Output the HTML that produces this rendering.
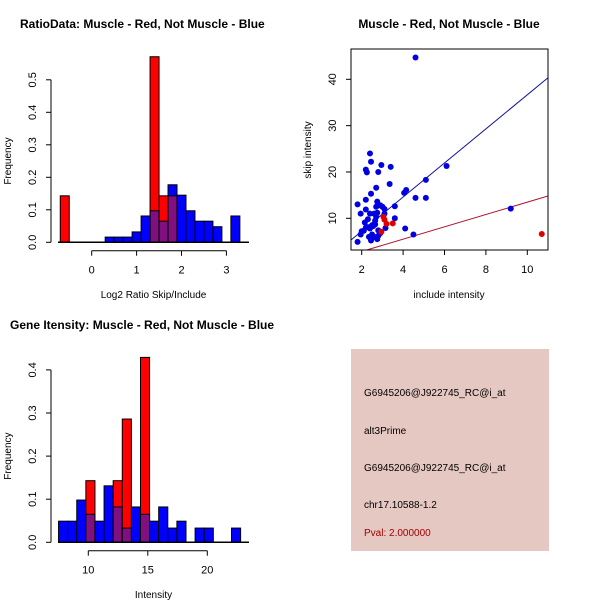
<!DOCTYPE html>
<html><head><meta charset="utf-8"><style>
html,body{margin:0;padding:0;background:#fff;}
svg{display:block;font-family:"Liberation Sans",sans-serif;}
</style></head><body>
<svg id="chart" width="600" height="600" viewBox="0 0 600 600" xmlns="http://www.w3.org/2000/svg">
<g id="p1"></g>
<g id="p2"></g>
<g id="p3"></g>
<g id="info">
<rect x="351" y="349" width="198" height="202" fill="#e6c8c2"/>
<text x="364" y="396" font-size="10" fill="#000">G6945206@J922745_RC@i_at</text>
<text x="364" y="434" font-size="10" fill="#000">alt3Prime</text>
<text x="364" y="471" font-size="10" fill="#000">G6945206@J922745_RC@i_at</text>
<text x="364" y="508" font-size="10" fill="#000">chr17.10588-1.2</text>
<text x="364" y="536" font-size="10" fill="#a00000">Pval: 2.000000</text>
</g>
</svg>
<script>
// ---- Ratio histogram data ----
const ratioBinStart = 0.3;
const ratioBinWidth = 0.2;
const ratioBlue = [0.016,0.016,0.016,0.032,0.081,0.097,0.065,0.177,0.145,0.097,0.065,0.065,0.048,0,0.081];
const ratioRedStarts = [-0.7,1.3,1.5,1.7];
const ratioRed = [0.143,0.571,0.143,0.143];
const ratioXTicks = [0,1,2,3];
const ratioYTicks = [0,0.1,0.2,0.3,0.4,0.5];
// ---- Scatter data ----
const blueX = [4.6,2.4,2.45,2.2,2.25,2.95,3.4,2.8,6.1,5.1,2.7,3.35,4.05,4.15,2.45,4.6,5.1,1.8,2.2,2.75,2.9,3.0,3.1,3.6,2.2,1.95,2.4,2.6,2.7,2.75,3.1,2.15,2.3,2.5,2.65,2.7,3.6,9.2,2.0,2.2,2.3,2.4,2.55,2.65,2.8,3.15,4.1,1.95,2.35,2.45,2.5,2.6,2.75,2.8,2.9,4.5,1.8,2.45,2.1];
const blueY = [44.7,24,22.2,20.5,19.9,21.5,21.1,20,21.3,18.3,16.6,17.4,15.5,16.1,15.3,14.4,14.4,13,14,13.6,12.8,12.5,12,12.6,11.9,11,11,11,12.5,11.2,11,9.1,9.8,8.5,9.5,10.3,10,12.1,7.2,8,8.1,7.8,8.3,8.7,7.4,7.9,7.8,6.5,6,5.5,6.5,6,5.5,6.2,6.8,6.5,4.9,5.2,7.3];
const redX = [3.05,3.1,3.2,3.5,2.95,10.7];
const redY = [10.3,9.7,8.8,8.9,7.1,6.6];
const blueFit = [-0.14,3.68]; // intercept, slope
const redFit = [0.18,1.33];
const scatterXTicks = [2,4,6,8,10];
const scatterYTicks = [10,20,30,40];
// ---- Gene intensity histogram data ----
const geneBinStart = 7.5;
const geneBinWidth = 0.765;
const geneBlue = [0.049,0.049,0.098,0.065,0.049,0.131,0.082,0.033,0.082,0.065,0.049,0.082,0.033,0.049,0,0.033,0.033,0,0,0.033];
const geneRedBins = [3,6,7,9];
const geneRed = [0.143,0.143,0.286,0.429];
const geneXTicks = [10,15,20];
const geneYTicks = [0,0.1,0.2,0.3,0.4];

const NS="http://www.w3.org/2000/svg";
function mk(parent,tag,attrs,text){const e=document.createElementNS(NS,tag);for(const k in attrs)e.setAttribute(k,attrs[k]);if(text!==undefined)e.textContent=text;parent.appendChild(e);return e;}
const BLUE="#0000ff",RED="#ff0000",PURP="#800f80";

function drawHist(g,xs,ys,binsBlue,redStarts,redVals,bw,xTicks,yTicks,x0px,x1px,xTickY,title,titleX,titleY,xlab,xlabY,yTickFmt){
  // blue
  binsBlue.forEach((v,i)=>{
    const a=xs.start+i*bw; const r=redStarts.indexOf(+(a.toFixed(3)));
  });
  const bars=[];
  binsBlue.forEach((v,i)=>{bars.push({a:xs.start+i*bw,b:v,r:0});});
  redStarts.forEach((s,j)=>{
    let found=bars.find(o=>Math.abs(o.a-s)<1e-6);
    if(found)found.r=redVals[j];else bars.push({a:s,b:0,r:redVals[j]});
  });
  bars.forEach(o=>{
    const px=xs(o.a),w=xs(o.a+bw)-px;
    if(o.r>0){const el=mk(g,'rect',{x:px,y:ys(o.r),width:w,height:ys(0)-ys(o.r),fill:RED,stroke:'#000','stroke-width':1});
      
      }
    if(o.b>0){const el=mk(g,'rect',{x:px,y:ys(o.b),width:w,height:ys(0)-ys(o.b),fill:o.r>0&&o.r<o.b?BLUE:(o.r>0?PURP:BLUE),stroke:'#000','stroke-width':1});
      
      }
    if(o.r>0&&o.b>0&&o.r<o.b){const el=mk(g,'rect',{x:px,y:ys(o.r),width:w,height:ys(0)-ys(o.r),fill:PURP,stroke:'#000','stroke-width':1});
      
      }
  });
  mk(g,'line',{x1:x0px,x2:x1px,y1:ys(0),y2:ys(0),stroke:'#000','stroke-width':1.5});
  // x axis
  mk(g,'line',{x1:xs(xTicks[0]),x2:xs(xTicks[xTicks.length-1]),y1:xTickY,y2:xTickY,stroke:'#000'});
  xTicks.forEach(t=>{mk(g,'line',{x1:xs(t),x2:xs(t),y1:xTickY,y2:xTickY+5,stroke:'#000'});
    const el=mk(g,'text',{x:xs(t),y:xTickY+23,'font-size':11,'text-anchor':'middle'},String(t));
    
    });
  // y axis
  mk(g,'line',{x1:51,x2:51,y1:ys(yTicks[0]),y2:ys(yTicks[yTicks.length-1]),stroke:'#000'});
  yTicks.forEach(t=>{mk(g,'line',{x1:46,x2:51,y1:ys(t),y2:ys(t),stroke:'#000'});
    const y=ys(t);const el=mk(g,'text',{x:36,y:y,'font-size':11,'text-anchor':'middle',transform:`rotate(-90 36 ${y})`},t.toFixed(1));
    
    });
  let el=mk(g,'text',{x:titleX,y:titleY,'font-size':12,'font-weight':'bold'},title);
  
  
  el=mk(g,'text',{x:(x0px+x1px)/2,y:xlabY,'font-size':10,'text-anchor':'middle'},xlab);
  
  
  const cy=(ys(0)+ys(yTicks[yTicks.length-1]))/2;
  el=mk(g,'text',{x:11,y:cy,'font-size':10,'text-anchor':'middle',transform:`rotate(-90 11 ${cy})`},'Frequency');
  
  
}

// plot 1
(function(){
  const g=document.getElementById('p1');
  const xs=v=>91.7+v*44.9; xs.start=ratioBinStart;
  const ys=v=>242.3-v*325;
  drawHist(g,xs,ys,ratioBlue,ratioRedStarts,ratioRed,ratioBinWidth,ratioXTicks,ratioYTicks,58,249,250.7,
    'RatioData: Muscle - Red, Not Muscle - Blue',20,28,'Log2 Ratio Skip/Include',298);
})();
// plot 3
(function(){
  const g=document.getElementById('p3');
  const xs=v=>88.3+(v-10)*11.9; xs.start=geneBinStart;
  const ys=v=>542.3-v*431;
  const starts=geneRedBins.map(i=>+(geneBinStart+i*geneBinWidth));
  drawHist(g,xs,ys,geneBlue,starts,geneRed,geneBinWidth,geneXTicks,geneYTicks,58,249,550.7,
    'Gene Itensity: Muscle - Red, Not Muscle - Blue',10,329,'Intensity',598);
})();
// scatter
(function(){
  const g=document.getElementById('p2');
  const xs=v=>361.7+(v-2)*20.7;
  const ys=v=>218.3-(v-10)*4.633;
  const L=351,R=548,T=49,B=250;
  mk(g,'defs',{}).innerHTML='<clipPath id="sc"><rect x="351" y="49" width="197" height="201"/></clipPath>';
  const cg=mk(g,'g',{'clip-path':'url(#sc)'});
  const xa=(L-361.7)/20.7+2, xb=(R-361.7)/20.7+2;
  let el=mk(cg,'line',{x1:xs(xa),y1:ys(blueFit[0]+blueFit[1]*xa),x2:xs(xb),y2:ys(blueFit[0]+blueFit[1]*xb),stroke:'#1010a0','stroke-width':1});
  
  
  el=mk(cg,'line',{x1:xs(xa),y1:ys(redFit[0]+redFit[1]*xa),x2:xs(xb),y2:ys(redFit[0]+redFit[1]*xb),stroke:'#b01030','stroke-width':1});
  
  
  blueX.forEach((x,i)=>{const c=mk(cg,'circle',{cx:xs(x),cy:ys(blueY[i]),r:3,fill:'#0000e0'});
    
    });
  redX.forEach((x,i)=>{const c=mk(cg,'circle',{cx:xs(x),cy:ys(redY[i]),r:3,fill:'#e00000'});
    
    });
  mk(g,'rect',{x:L,y:T,width:R-L,height:B-T,fill:'none',stroke:'#000'});
  scatterXTicks.forEach(t=>{mk(g,'line',{x1:xs(t),x2:xs(t),y1:B,y2:B+5,stroke:'#000'});
    const e=mk(g,'text',{x:xs(t),y:B+23,'font-size':11,'text-anchor':'middle'},String(t));
    
    });
  scatterYTicks.forEach(t=>{const y=ys(t);mk(g,'line',{x1:L-5,x2:L,y1:y,y2:y,stroke:'#000'});
    const e=mk(g,'text',{x:336,y:y,'font-size':11,'text-anchor':'middle',transform:`rotate(-90 336 ${y})`},String(t));
    
    });
  el=mk(g,'text',{x:449,y:28,'font-size':12,'font-weight':'bold','text-anchor':'middle'},'Muscle - Red, Not Muscle - Blue');
  
  
  el=mk(g,'text',{x:449,y:298,'font-size':10,'text-anchor':'middle'},'include intensity');
  
  
  el=mk(g,'text',{x:311,y:150,'font-size':10,'text-anchor':'middle',transform:'rotate(-90 311 150)'},'skip intensity');
  
  
})();
</script>
</body></html>
